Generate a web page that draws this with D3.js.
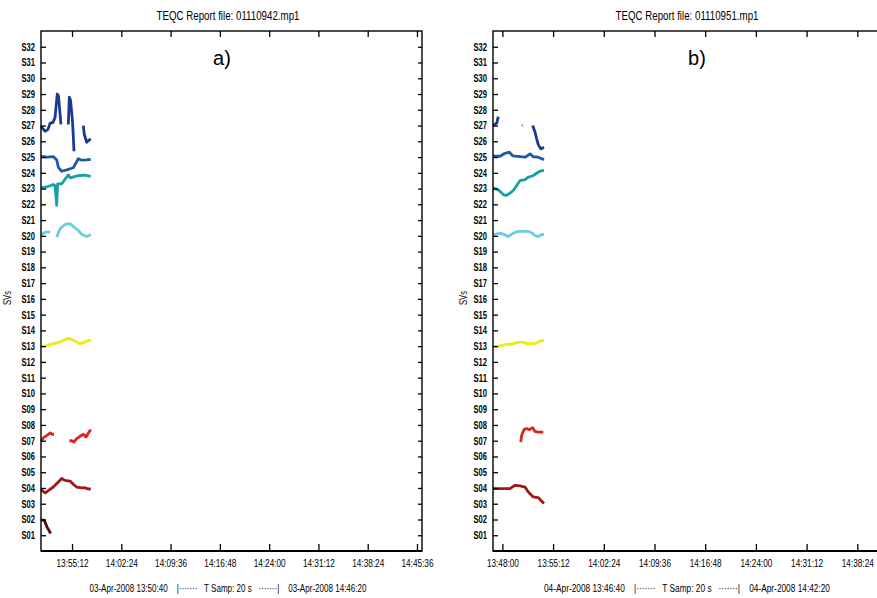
<!DOCTYPE html>
<html><head><meta charset="utf-8">
<script src="https://cdn.jsdelivr.net/npm/d3@7"></script>
<style>
html,body{margin:0;padding:0;background:#fff;}
text{font-family:'Liberation Sans',Arial,sans-serif;fill:#000;}
</style></head>
<body>
<svg id="chart" width="877" height="598"></svg>
<script>
// ---------- data ----------
const satLabels = d3.range(1, 33).map(i => "S" + String(i).padStart(2, "0"));
const titles = ["TEQC Report file: 01110942.mp1", "TEQC Report file: 01110951.mp1"];
const panelLetters = ["a)", "b)"];
const startTimes = ["13:50:40", "13:46:40"];
const endTimes = ["14:46:20", "14:42:20"];
const footerDates = ["03-Apr-2008", "04-Apr-2008"];
const sampleText = "T Samp: 20 s";
const yAxisTitle = "SVs";
const xTickLabelsA = ["13:55:12","14:02:24","14:09:36","14:16:48","14:24:00","14:31:12","14:38:24","14:45:36"];
const xTickLabelsB = ["13:48:00","13:55:12","14:02:24","14:09:36","14:16:48","14:24:00","14:31:12","14:38:24"];
const satNames = ["S27","S25","S23","S20","S13","S07","S04","S02"];
const satColors = ["#1d3a8e","#1f58a8","#16a2a4","#6dcde0","#eeea12","#d7261d","#a21616","#4e0c0c"];

// each value: [minutes after start, SV axis position]; null = gap
const panelA_S27 = [[0,26.95],[0.58,26.64],[1.0,26.74],[1.32,27.14],[1.75,27.2],[2.05,27.5],[2.2,28.2],[2.38,29.0],[2.56,28.86],[2.75,27.9],[2.92,27.07],null,[3.99,27.07],[4.14,28.8],[4.31,28.6],[4.45,28.0],[4.6,27.27],[4.7,26.5],[4.82,25.37],null,[6.18,27.0],[6.33,26.43],[6.68,25.94],[6.94,26.05],[7.27,26.16]];
const panelA_S25 = [[0,25.05],[0.83,25.0],[1.8,25.03],[2.3,24.82],[2.53,24.35],[3.03,24.1],[3.76,24.19],[4.72,24.32],[5.45,24.89],[5.95,24.8],[6.68,24.82],[7.27,24.86]];
const panelA_S23 = [[0,23.05],[0.8,23.1],[1.8,23.26],[2.05,23.2],[2.19,22.5],[2.29,21.93],[2.43,23.3],[3.0,23.3],[3.2,23.4],[3.56,23.62],[4.0,23.87],[4.3,23.68],[5.0,23.77],[5.7,23.83],[6.4,23.86],[7.27,23.78]];
const panelA_S20 = [[0,20.07],[0.63,20.23],[1.35,20.23],null,[2.29,19.92],[2.78,20.45],[3.51,20.72],[4.24,20.77],[4.7,20.6],[5.45,20.34],[5.95,20.09],[6.68,19.96],[7.27,20.09]];
const panelA_S13 = [[0,12.99],[0.9,13.03],[1.8,13.16],[2.78,13.26],[3.76,13.47],[4.24,13.47],[4.97,13.32],[5.7,13.16],[6.43,13.26],[6.92,13.37],[7.27,13.32]];
const panelA_S07 = [[0,6.98],[0.38,7.2],[0.87,7.34],[1.35,7.49],[1.6,7.41],[1.9,7.41],null,[4.14,6.98],[4.5,7.0],[4.82,6.92],[5.21,7.13],[5.7,7.28],[6.18,7.41],[6.58,7.23],[6.92,7.49],[7.27,7.70]];
const panelA_S04 = [[0,3.90],[0.63,3.68],[1.1,3.85],[1.8,4.06],[2.53,4.38],[3.03,4.60],[3.5,4.48],[4.24,4.44],[4.72,4.23],[5.21,4.06],[5.95,4.0],[6.43,4.02],[6.77,3.95],[7.27,3.92]];
const panelA_S02 = [[0,1.98],[0.48,1.95],[0.87,1.53],[1.42,1.11]];

const panelB_S27 = [[0,27.0],[0.35,27.1],[0.53,27.15],[0.75,27.57],null,[4.12,27.0],[4.2,27.02],null,[5.64,27.0],[5.97,26.58],[6.2,26.16],[6.43,25.79],[6.78,25.52],[7.24,25.62]];
const panelB_S25 = [[0,25.05],[1.0,25.05],[1.7,25.24],[2.32,25.31],[2.8,25.08],[3.84,25.03],[4.55,24.99],[5.26,25.2],[5.72,25.02],[6.43,24.99],[7.24,24.84]];
const panelB_S23 = [[0,23.05],[0.75,22.92],[1.46,22.62],[1.85,22.56],[2.41,22.71],[2.88,22.88],[3.36,23.19],[3.84,23.51],[4.55,23.57],[5.01,23.72],[5.72,23.83],[6.2,23.97],[6.67,24.10],[7.24,24.15]];
const panelB_S20 = [[0,20.07],[1.0,20.17],[1.46,20.11],[2.17,19.96],[2.88,20.17],[3.6,20.28],[5.01,20.28],[5.5,20.2],[5.97,20.02],[6.43,19.96],[6.91,20.09],[7.24,20.07]];
const panelB_S13 = [[0,12.99],[1.0,13.01],[1.94,13.12],[2.65,13.12],[3.13,13.2],[3.84,13.26],[4.32,13.26],[4.8,13.16],[5.97,13.16],[6.43,13.26],[6.91,13.37],[7.24,13.32]];
const panelB_S07 = [[3.93,6.92],[4.08,7.34],[4.4,7.70],[4.78,7.77],[5.16,7.70],[5.64,7.83],[5.97,7.59],[6.43,7.55],[7.15,7.55]];
const panelB_S04 = [[0,3.96],[2.41,3.96],[3.13,4.17],[3.84,4.13],[4.55,4.06],[5.01,3.75],[5.72,3.43],[6.43,3.39],[6.78,3.22],[7.24,3.01]];
const panelB_S02 = [];

// ---------- drawing ----------
const svg = d3.select("#chart");
svg.append("rect").attr("width",877).attr("height",598).attr("fill","#fff");
const parseT = d3.timeParse("%H:%M:%S");

const panels = [
  {x0:41, x1:422, ticks:xTickLabelsA, series:[panelA_S27,panelA_S25,panelA_S23,panelA_S20,panelA_S13,panelA_S07,panelA_S04,panelA_S02], svsX:11, footW:277, footX:228},
  {x0:493, x1:885, ticks:xTickLabelsB, series:[panelB_S27,panelB_S25,panelB_S23,panelB_S20,panelB_S13,panelB_S07,panelB_S04,panelB_S02], svsX:467, footW:286, footX:687}
];
const yTop = 31, yBot = 551;
const y = d3.scaleLinear().domain([0, 33]).range([yBot, yTop]);

panels.forEach((p, i) => {
  const t0 = parseT(startTimes[i]), t1 = parseT(endTimes[i]);
  const x = d3.scaleTime().domain([t0, t1]).range([p.x0, p.x1]);
  const g = svg.append("g");

  // series
  const line = d3.line()
    .defined(d => d !== null)
    .x(d => x(new Date(t0.getTime() + d[0]*60000)))
    .y(d => y(d[1]));
  p.series.forEach((s, k) => {
    if (!s.length) return;
    g.append("path").attr("d", line(s)).attr("fill","none")
      .attr("stroke", satColors[k]).attr("stroke-width", 2.8)
      .attr("stroke-linejoin","round").attr("stroke-linecap","butt");
  });

  // frame
  g.append("rect").attr("x", p.x0).attr("y", yTop).attr("width", p.x1 - p.x0).attr("height", yBot - yTop)
    .attr("fill","none").attr("stroke","#000").attr("stroke-width",1.4);
  g.append("line").attr("x1", p.x0).attr("x2", p.x1).attr("y1", yBot).attr("y2", yBot)
    .attr("stroke","#000").attr("stroke-width",2.2);

  const tickDates = p.ticks.map(parseT);
  // bottom axis
  const ax = g.append("g").attr("transform", `translate(0,${yBot})`)
    .call(d3.axisBottom(x).tickValues(tickDates).tickFormat(d3.timeFormat("%H:%M:%S")).tickSizeInner(-7).tickSizeOuter(0).tickPadding(9));
  ax.select(".domain").remove();
  ax.selectAll("line").attr("stroke","#000").attr("stroke-width",1.3);
  ax.selectAll("text").attr("font-size","10.5px").attr("fill","#000")
    .attr("textLength", 32).attr("lengthAdjust","spacingAndGlyphs");
  // top axis
  const axT = g.append("g").attr("transform", `translate(0,${yTop})`)
    .call(d3.axisTop(x).tickValues(tickDates).tickFormat("").tickSizeInner(-6).tickSizeOuter(0));
  axT.select(".domain").remove();
  axT.selectAll("line").attr("stroke","#000").attr("stroke-width",1.3);
  // left axis
  const ayL = g.append("g").attr("transform", `translate(${p.x0},0)`)
    .call(d3.axisLeft(y).tickValues(d3.range(1,33)).tickFormat(d => satLabels[d-1]).tickSizeInner(-5).tickSizeOuter(0).tickPadding(6));
  ayL.select(".domain").remove();
  ayL.selectAll("line").attr("stroke","#000").attr("stroke-width",1.3);
  ayL.selectAll("text").attr("font-size","10.5px").attr("font-weight","bold").attr("fill","#000")
    .attr("textLength", 13.5).attr("lengthAdjust","spacingAndGlyphs");
  // right axis
  const ayR = g.append("g").attr("transform", `translate(${p.x1},0)`)
    .call(d3.axisRight(y).tickValues(d3.range(1,33)).tickFormat("").tickSizeInner(-4).tickSizeOuter(0));
  ayR.select(".domain").remove();
  ayR.selectAll("line").attr("stroke","#000").attr("stroke-width",1.3);

  const cx = (p.x0 + p.x1) / 2;
  g.append("text").attr("x", i === 0 ? 228 : 687).attr("y", 20).attr("text-anchor","middle")
    .attr("font-size","12.5px").attr("textLength", 143).attr("lengthAdjust","spacingAndGlyphs").text(titles[i]);
  g.append("text").attr("x", i === 0 ? 222 : 697).attr("y", 65).attr("text-anchor","middle")
    .attr("font-size","20px").text(panelLetters[i]);
  g.append("text").attr("transform", `translate(${p.svsX},298) rotate(-90)`).attr("text-anchor","middle")
    .attr("font-size","10px").attr("textLength", 14).attr("lengthAdjust","spacingAndGlyphs").text(yAxisTitle);
  g.append("text").attr("x", p.footX).attr("y", 592).attr("text-anchor","middle")
    .attr("font-size","10.5px").style("white-space","pre")
    .attr("textLength", p.footW).attr("lengthAdjust","spacingAndGlyphs")
    .text(`${footerDates[i]} ${startTimes[i]}    |·······   ${sampleText}   ·······|    ${footerDates[i]} ${endTimes[i]}`);
});
</script>
</body></html>
